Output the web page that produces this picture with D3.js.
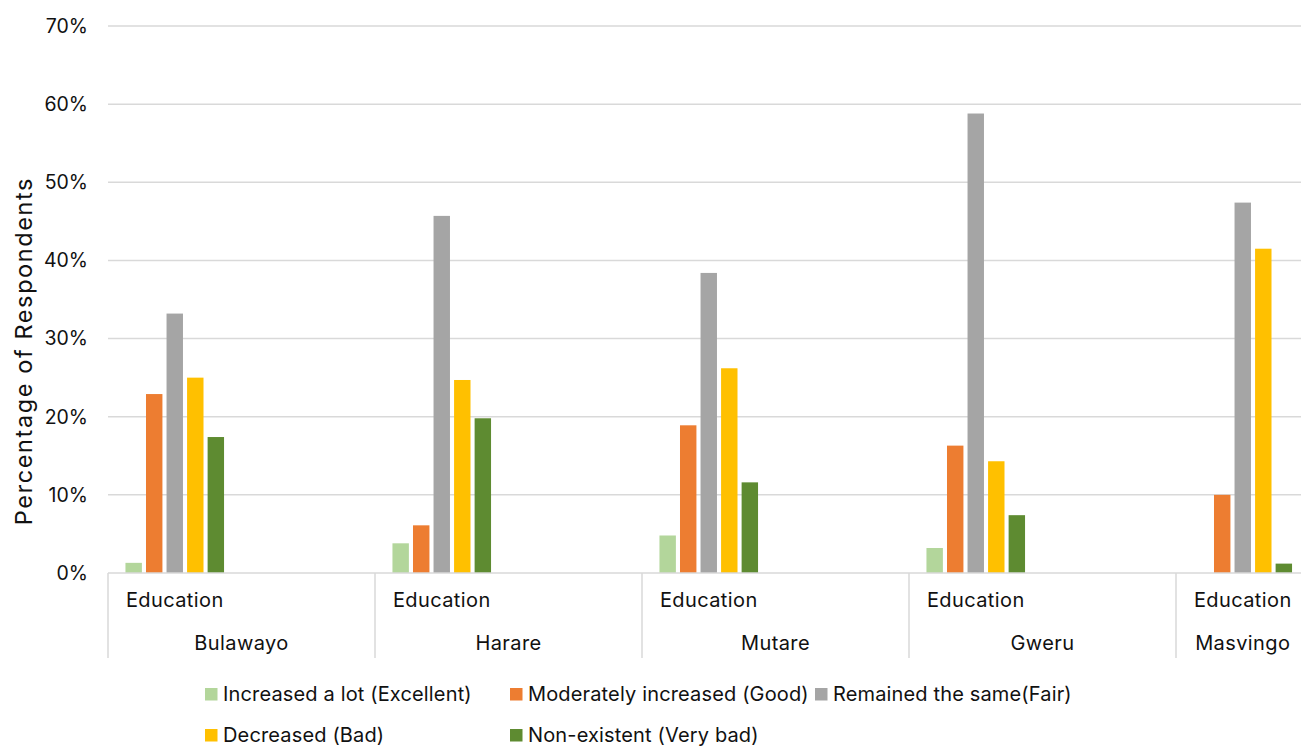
<!DOCTYPE html>
<html>
<head>
<meta charset="utf-8">
<script src="https://cdn.jsdelivr.net/npm/d3@7/dist/d3.min.js"></script>
<style>
  html, body { margin: 0; padding: 0; background: #fff; overflow: hidden; }
  text { font-family: Inter, "Open Sans", sans-serif; fill: #111; }
</style>
</head>
<body>
<svg id="chart" width="1301" height="747"></svg>
<script>
const cities = ["Bulawayo", "Harare", "Mutare", "Gweru", "Masvingo"];
const subLabel = "Education";
const seriesNames = [
  "Increased a lot (Excellent)",
  "Moderately increased (Good)",
  "Remained the same(Fair)",
  "Decreased (Bad)",
  "Non-existent (Very bad)"
];
const seriesColors = ["#b3d69b", "#ed7d31", "#a5a5a5", "#ffc000", "#5e8b31"];
// values in % per city, order follows seriesNames
const excellent = [1.3, 3.8, 4.8, 3.2, 0];
const good      = [22.9, 6.1, 18.9, 16.3, 10.0];
const fair      = [33.2, 45.7, 38.4, 58.8, 47.4];
const bad       = [25.0, 24.7, 26.2, 14.3, 41.5];
const veryBad   = [17.4, 19.8, 11.6, 7.4, 1.2];
const yTicks = [0, 10, 20, 30, 40, 50, 60, 70];

const seriesValues = [excellent, good, fair, bad, veryBad];

const svg = d3.select("#chart");
const mLeft = 108, mRight = 1309.5, mTop = 26, mBottom = 573;

// slots: each city has an "Education" slot plus an empty slot, except the last
const slots = [];
cities.forEach((c, i) => {
  slots.push({city: c, sub: subLabel, key: c + "|E"});
  if (i < cities.length - 1) slots.push({city: c, sub: "", key: c + "|B"});
});

const x0 = d3.scaleBand().domain(slots.map(d => d.key)).range([mLeft, mRight]).padding(0);
const x1 = d3.scaleBand().domain(seriesNames).range([0, x0.bandwidth()]).paddingInner(0.2).paddingOuter(0.85);
const y = d3.scaleLinear().domain([0, 70]).range([mBottom, mTop]);

// gridlines
svg.append("g").selectAll("line").data(yTicks.filter(t => t > 0)).join("line")
  .attr("x1", mLeft).attr("x2", 1301)
  .attr("y1", d => y(d)).attr("y2", d => y(d))
  .attr("stroke", "#d9d9d9").attr("stroke-width", 1.5);

// y tick labels
svg.append("g").selectAll("text").data(yTicks).join("text")
  .attr("x", 88).attr("y", d => y(d)).attr("dy", "0.35em")
  .attr("text-anchor", "end").attr("font-size", 19.5)
  .text(d => d + "%");

// y title
svg.append("text")
  .attr("transform", "translate(32,351) rotate(-90)")
  .attr("text-anchor", "middle").attr("font-size", 23.5).attr("letter-spacing", 1.6)
  .text("Percentage of Respondents");

// bars
const rows = [];
cities.forEach((c, ci) => {
  seriesNames.forEach((s, si) => {
    rows.push({city: c, series: s, si, value: seriesValues[si][ci]});
  });
});
svg.append("g").selectAll("rect").data(rows.filter(d => d.value > 0)).join("rect")
  .attr("x", d => x0(d.city + "|E") + x1(d.series))
  .attr("width", x1.bandwidth())
  .attr("y", d => y(d.value))
  .attr("height", d => y(0) - y(d.value))
  .attr("fill", d => seriesColors[d.si]);

// x axis line
svg.append("line").attr("x1", mLeft).attr("x2", 1301).attr("y1", mBottom).attr("y2", mBottom)
  .attr("stroke", "#d9d9d9").attr("stroke-width", 1.5);

// category separators
svg.append("g").selectAll("line").data(cities).join("line")
  .attr("x1", d => x0(d + "|E")).attr("x2", d => x0(d + "|E"))
  .attr("y1", mBottom).attr("y2", 658)
  .attr("stroke", "#d9d9d9").attr("stroke-width", 1.5);

// sub-category labels
svg.append("g").selectAll("text").data(slots.filter(d => d.sub)).join("text")
  .attr("x", d => x0(d.key) + x0.bandwidth() / 2).attr("y", 600).attr("dy", "0.35em")
  .attr("text-anchor", "middle").attr("font-size", 20).attr("letter-spacing", 0.4)
  .text(d => d.sub);

// city labels
svg.append("g").selectAll("text").data(cities).join("text")
  .attr("x", (d, i) => {
    const s = x0(d + "|E");
    const e = i < cities.length - 1 ? x0(d + "|B") + x0.bandwidth() : s + x0.bandwidth();
    return (s + e) / 2;
  })
  .attr("y", 643).attr("dy", "0.35em")
  .attr("text-anchor", "middle").attr("font-size", 20).attr("letter-spacing", 0.4)
  .text(d => d);

// legend
const legendPos = [[205, 694], [510, 694], [815, 694], [205, 735], [510, 735]];
const lg = svg.append("g").selectAll("g").data(seriesNames).join("g")
  .attr("transform", (d, i) => `translate(${legendPos[i][0]},${legendPos[i][1]})`);
lg.append("rect").attr("x", 0).attr("y", -6).attr("width", 12.5).attr("height", 12.5)
  .attr("fill", (d, i) => seriesColors[i]);
lg.append("text").attr("x", 18).attr("y", 0).attr("dy", "0.35em").attr("font-size", 20).attr("letter-spacing", 0.15)
  .text(d => d);
</script>
</body>
</html>
